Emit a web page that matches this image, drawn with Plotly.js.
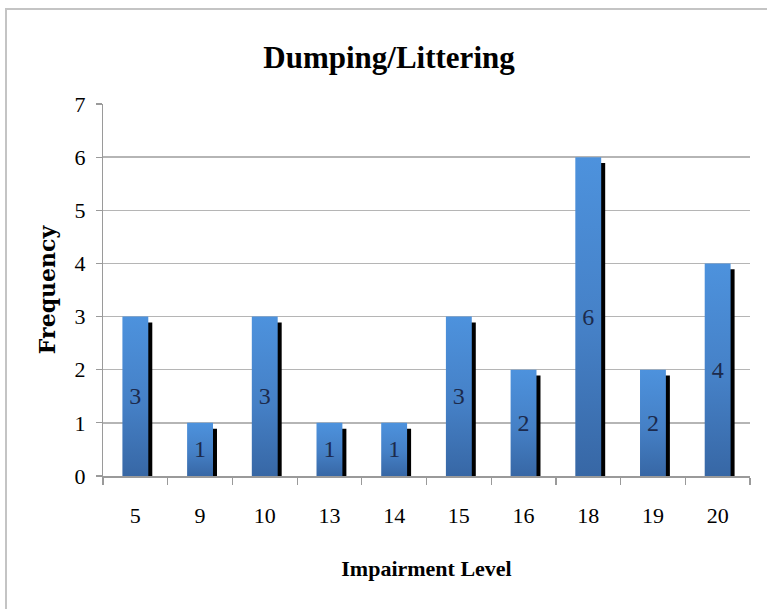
<!DOCTYPE html>
<html>
<head>
<meta charset="utf-8">
<script src="https://cdn.plot.ly/plotly-3.0.1.min.js"></script>
<style>
  html, body { margin: 0; padding: 0; background: #ffffff; }
  #chart { width: 767px; height: 609px; }
</style>
</head>
<body>
<div id="chart"></div>
<script>
// Impairment levels (categories) and how often each occurred
const levels = ['5', '9', '10', '13', '14', '15', '16', '18', '19', '20'];
const frequency = [3, 1, 3, 1, 1, 3, 2, 6, 2, 4];
const yTicks = [0, 1, 2, 3, 4, 5, 6, 7];

const chartTitle = 'Dumping/Littering';
const xTitle = 'Impairment Level';
const yTitle = 'Frequency';

// Plot box in pixels
const W = 767, H = 609;
const M = { l: 103, r: 17, t: 104, b: 133 };
const plotW = W - M.l - M.r;
const plotH = H - M.t - M.b;

// Bar geometry (category units) and drop shadow offsets
const barWidth = 0.4;
const shadowShiftPx = 4;
const shadowDrop = 0.11;
const shadowOffset = -barWidth / 2 + shadowShiftPx / (plotW / levels.length);

const serif = '"Liberation Serif", "Times New Roman", serif';

const shadow = {
  type: 'bar',
  x: levels,
  y: frequency.map(v => v - shadowDrop),
  width: barWidth,
  offset: shadowOffset,
  marker: { color: '#000000', line: { width: 0 } },
  hoverinfo: 'skip',
  showlegend: false
};

const bars = {
  type: 'bar',
  x: levels,
  y: frequency,
  width: barWidth,
  offset: -barWidth / 2,
  marker: { color: '#4580c4', line: { width: 0 } },
  text: frequency.map(String),
  textposition: 'inside',
  insidetextanchor: 'middle',
  textangle: 0,
  textfont: { family: serif, size: 24, color: '#1c2a4c' },
  constraintext: 'none',
  showlegend: false
};

// Frame along the top and left edge of the chart area
const px2x = px => (px - M.l) / plotW;
const px2y = py => (H - M.b - py) / plotH;

const layout = {
  width: W,
  height: H,
  margin: M,
  paper_bgcolor: '#ffffff',
  plot_bgcolor: '#ffffff',
  barmode: 'overlay',
  showlegend: false,
  title: {
    text: chartTitle,
    font: { family: serif, size: 31, color: '#000000', weight: 'bold' },
    xref: 'container',
    x: 389 / W,
    xanchor: 'center',
    yref: 'container',
    y: 1 - 57 / H,
    yanchor: 'middle'
  },
  xaxis: {
    type: 'category',
    tickson: 'boundaries',
    ticks: 'outside',
    ticklen: 7,
    tickwidth: 1.2,
    tickcolor: '#9a9a9a',
    showgrid: false,
    showline: true,
    linecolor: '#9a9a9a',
    linewidth: 1.5,
    zeroline: false,
    tickfont: { family: serif, size: 22, color: '#000000' },
    ticklabelstandoff: 19,
    title: {
      text: xTitle,
      font: { family: serif, size: 22, color: '#000000', weight: 'bold' },
      standoff: 33
    },
    automargin: false
  },
  yaxis: {
    range: [0, 7],
    tickvals: yTicks,
    ticktext: yTicks.map(String),
    ticks: 'outside',
    ticklen: 6,
    tickwidth: 1.2,
    tickcolor: '#9a9a9a',
    showgrid: true,
    gridcolor: '#b5b5b5',
    gridwidth: 1.5,
    showline: true,
    linecolor: '#9a9a9a',
    linewidth: 1.2,
    zeroline: false,
    tickfont: { family: serif, size: 22, color: '#000000' },
    ticklabelstandoff: 6,
    title: {
      text: yTitle,
      font: { family: '"DejaVu Serif", serif', size: 22, color: '#000000', weight: 'bold' },
      standoff: 12
    },
    automargin: false
  },
  shapes: [
    {
      type: 'line', xref: 'paper', yref: 'paper',
      x0: px2x(6), x1: px2x(W + 2), y0: px2y(9), y1: px2y(9),
      line: { color: '#c4c4c4', width: 2 }
    },
    {
      type: 'line', xref: 'paper', yref: 'paper',
      x0: px2x(6), x1: px2x(6), y0: px2y(8), y1: px2y(H + 2),
      line: { color: '#c4c4c4', width: 2 }
    }
  ]
};

Plotly.newPlot('chart', [shadow, bars], layout, { displayModeBar: false, staticPlot: true }).then(gd => {
  // Vertical light-to-dark blue fill for the main bars
  const svg = gd.querySelector('svg.main-svg');
  const ns = 'http://www.w3.org/2000/svg';
  let defs = svg.querySelector('defs');
  if (!defs) { defs = document.createElementNS(ns, 'defs'); svg.insertBefore(defs, svg.firstChild); }
  const grad = document.createElementNS(ns, 'linearGradient');
  grad.setAttribute('id', 'barFill');
  grad.setAttribute('x1', '0'); grad.setAttribute('y1', '0');
  grad.setAttribute('x2', '0'); grad.setAttribute('y2', '1');
  [['0%', '#4d92dd'], ['55%', '#4580c6'], ['100%', '#3767a5']].forEach(([o, c]) => {
    const s = document.createElementNS(ns, 'stop');
    s.setAttribute('offset', o);
    s.setAttribute('stop-color', c);
    grad.appendChild(s);
  });
  defs.appendChild(grad);
  const traces = gd.querySelectorAll('.barlayer .trace.bars');
  const main = traces[traces.length - 1];
  main.querySelectorAll('.point path').forEach(p => {
    p.style.fill = 'url(#barFill)';
  });
});
</script>
</body>
</html>
